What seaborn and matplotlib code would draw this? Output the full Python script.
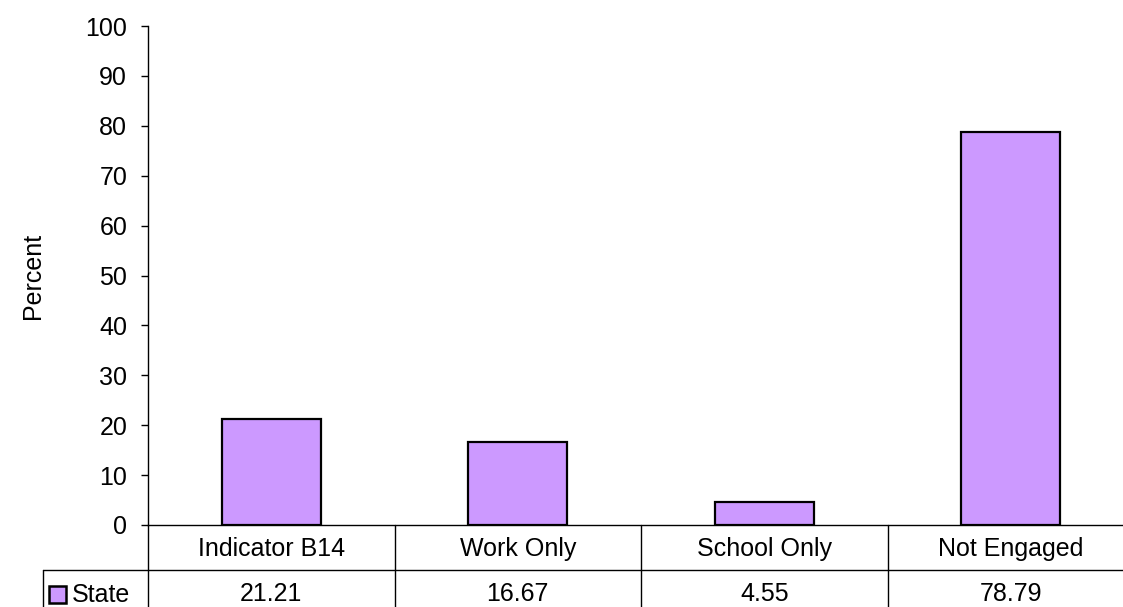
import matplotlib
matplotlib.use("Agg")
import matplotlib.pyplot as plt
import matplotlib.transforms as mtransforms
from matplotlib.patches import Rectangle
import pandas as pd
import seaborn as sns

# Data
categories = ["Indicator B14", "Work Only", "School Only", "Not Engaged"]
state_values = [21.21, 16.67, 4.55, 78.79]
series_name = "State"
yticks = list(range(0, 101, 10))

bar_color = "#CC99FF"
FS = 18

sns.set_style("white")
plt.rcParams["font.family"] = ["Liberation Sans", "DejaVu Sans"]
plt.rcParams["text.color"] = "black"
plt.rcParams["ytick.color"] = "black"
plt.rcParams["ytick.labelcolor"] = "black"
plt.rcParams["axes.labelcolor"] = "black"

df = pd.DataFrame({"category": categories, "value": state_values})

W, H = 1123, 607
fig = plt.figure(figsize=(W / 100, H / 100), dpi=100)
# plot area: x 148..1134 px (last column runs past the edge), y 26..525 px
ax = fig.add_axes([148 / W, (H - 525) / H, (1134 - 148) / W, (525 - 26) / H])

sns.barplot(data=df, x="category", y="value", color=bar_color, width=0.4,
            edgecolor="black", linewidth=1.6, saturation=1, ax=ax)

ax.set_ylim(0, 100)
ax.set_xlim(-0.5, len(categories) - 0.5)
ax.set_yticks(yticks)
ax.set_yticklabels([str(t) for t in yticks], fontsize=FS, color="black")
ax.tick_params(axis="y", direction="out", length=5, width=1, pad=10, left=True, color="black")
ax.tick_params(axis="x", bottom=False, labelbottom=False)
ax.set_xlabel("")
ax.set_ylabel("Percent", fontsize=FS, color="black")
ax.yaxis.set_label_coords((45 - 148) / 986, 0.5)

for s in ["top", "right"]:
    ax.spines[s].set_visible(False)
for s in ["left", "bottom"]:
    ax.spines[s].set_color("black")
    ax.spines[s].set_linewidth(1)

# Data table below the plot
trans = mtransforms.blended_transform_factory(ax.transData, ax.transAxes)
ax_h = 525 - 26
row1 = -(570 - 525) / ax_h
row_bot = -(620 - 525) / ax_h
hdr_left = -0.5 - (148 - 43) / 246.5
line_kw = dict(color="black", lw=1, transform=trans, clip_on=False)

ax.plot([hdr_left, len(categories) - 0.5], [row1, row1], **line_kw)
ax.plot([hdr_left, hdr_left], [row1, row_bot], **line_kw)
for i in range(len(categories)):
    ax.plot([i - 0.5, i - 0.5], [0, row_bot], **line_kw)

for i, (cat, v) in enumerate(zip(categories, state_values)):
    ax.text(i, -(549 - 525) / ax_h, cat, transform=trans, ha="center", va="center", fontsize=FS)
    ax.text(i, -(594 - 525) / ax_h, f"{v:.2f}", transform=trans, ha="center", va="center", fontsize=FS)

# legend key in the row header
fig.patches.append(Rectangle((49 / W, (H - 603) / H), 17 / W, 17 / H, transform=fig.transFigure,
                             facecolor=bar_color, edgecolor="black", lw=1.8))
fig.text(72 / W, (H - 595) / H, series_name, ha="left", va="center", fontsize=FS)

fig.savefig("out.png", dpi=100)
